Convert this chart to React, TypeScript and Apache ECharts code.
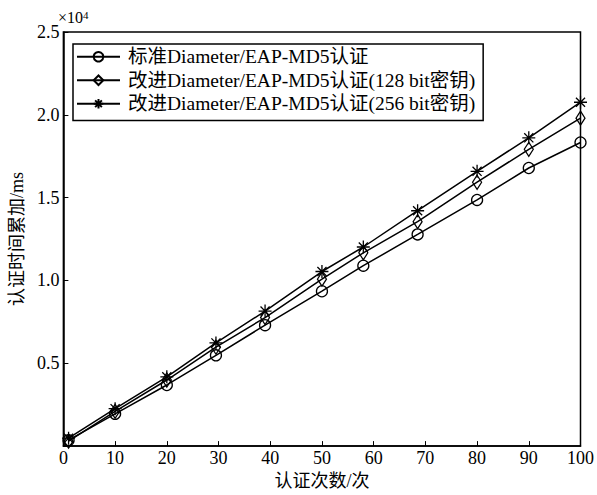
import React, { useEffect, useRef } from "react";
import * as echarts from "echarts";

const xCounts = [1, 10, 20, 29.5, 39, 50, 58, 68.5, 80, 90, 100];
const standardTimes = [360, 1950, 3690, 5480, 7300, 9350, 10890, 12780, 14860, 16790, 18330];
const improved128Times = [300, 2100, 3990, 5970, 7760, 10080, 11670, 13550, 15930, 17920, 19800];
const improved256Times = [480, 2260, 4180, 6230, 8150, 10540, 12020, 14210, 16590, 18610, 20760];
const seriesNames = [
  "标准Diameter/EAP-MD5认证",
  "改进Diameter/EAP-MD5认证(128 bit密钥)",
  "改进Diameter/EAP-MD5认证(256 bit密钥)",
];
const xTicks = [0, 10, 20, 30, 40, 50, 60, 70, 80, 90, 100];

const FONT = "'Liberation Serif', 'Times New Roman', 'Noto Sans CJK SC', serif";
const STAR = "path://M0,-10L0,10M-10,0L10,0M-7,-7L7,7M-7,7L7,-7";

export default function App() {
  const ref = useRef<HTMLDivElement>(null);
  useEffect(() => {
    if (!ref.current) return;
    const chart = echarts.init(ref.current, null, { renderer: "svg" });
    const mk = (name: string, vals: number[], symbol: string, size: any) => ({
      name,
      type: "line",
      data: vals.map((v, i) => [xCounts[i], v]),
      symbol,
      symbolSize: size,
      showAllSymbol: true,
      lineStyle: { color: "#000", width: 1.5 },
      itemStyle: { color: "rgba(255,255,255,0)", borderColor: "#000", borderWidth: 1.3 },
      emphasis: { disabled: true },
    });
    chart.setOption({
      animation: false,
      backgroundColor: "#fff",
      textStyle: { fontFamily: FONT },
      grid: {
        left: 61,
        right: 16,
        top: 32,
        bottom: 44,
        show: true,
        borderColor: "#000",
        borderWidth: 1.5,
      },
      legend: {
        orient: "vertical",
        left: 73,
        top: 44,
        padding: [3, 8, 7, 3],
        itemGap: 4,
        itemWidth: 43,
        itemHeight: 12,
        borderColor: "#000",
        borderWidth: 1.5,
        textStyle: { fontFamily: FONT, fontSize: 19.5, color: "#000", padding: [0, 0, 0, 3] },
        data: seriesNames,
      },
      xAxis: {
        type: "value",
        min: 0,
        max: 100,
        interval: 10,
        name: "认证次数/次",
        nameLocation: "middle",
        nameGap: 23,
        nameTextStyle: { fontFamily: FONT, fontSize: 18, color: "#000" },
        axisLine: { lineStyle: { color: "#000", width: 1.5 } },
        axisTick: { inside: true, length: 5, lineStyle: { color: "#000" } },
        axisLabel: {
          fontFamily: FONT,
          fontSize: 18,
          color: "#000",
          margin: 3,
          customValues: xTicks,
        },
        splitLine: { show: false },
      },
      yAxis: {
        type: "value",
        min: 0,
        max: 25000,
        interval: 5000,
        name: "认证时间累加/ms",
        nameLocation: "middle",
        nameGap: 32,
        nameTextStyle: { fontFamily: FONT, fontSize: 18, color: "#000" },
        axisLine: { show: true, lineStyle: { color: "#000", width: 1.5 } },
        axisTick: { show: true, inside: true, length: 5, lineStyle: { color: "#000" } },
        axisLabel: {
          fontFamily: FONT,
          fontSize: 18,
          color: "#000",
          margin: 4,
          formatter: (v: number) => (v === 0 ? "" : (v / 10000).toFixed(1)),
        },
        splitLine: { show: false },
      },
      graphic: [
        {
          type: "text",
          left: 58,
          top: 9,
          style: {
            text: "×10{s|4}",
            font: "16px " + FONT,
            fill: "#000",
            rich: { s: { fontSize: 11, verticalAlign: "top", fontFamily: FONT, fill: "#000" } },
          },
        },
      ],
      series: [
        mk(seriesNames[0], standardTimes, "circle", 11),
        mk(seriesNames[1], improved128Times, "diamond", [9, 14]),
        mk(seriesNames[2], improved256Times, STAR, 13),
      ],
    });
    return () => chart.dispose();
  }, []);
  return (
    <div
      ref={ref}
      style={{ position: "absolute", left: 0, top: 0, width: 597, height: 495 }}
    />
  );
}
